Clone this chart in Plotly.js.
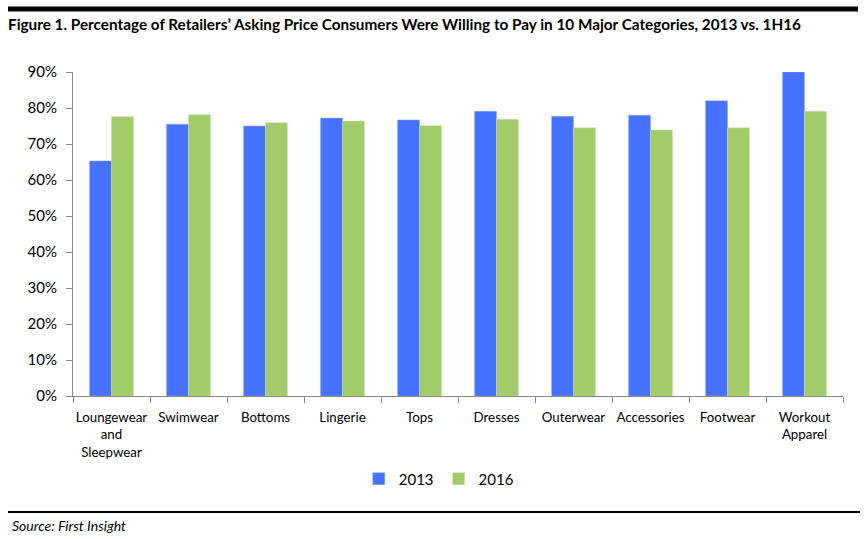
<!DOCTYPE html>
<html>
<head>
<meta charset="utf-8">
<script src="https://cdn.plot.ly/plotly-3.0.1.min.js"></script>
<style>html,body{margin:0;padding:0;background:#fff;}#chart{width:864px;height:539px;}</style>
</head>
<body>
<div id="chart"></div>
<script>
const categories = ["Loungewear<br>and<br>Sleepwear", "Swimwear", "Bottoms", "Lingerie", "Tops", "Dresses", "Outerwear", "Accessories", "Footwear", "Workout<br>Apparel"];
const values2013 = [65.3, 75.5, 75.0, 77.2, 76.7, 79.1, 77.7, 78.0, 82.0, 90.0];
const values2016 = [77.6, 78.1, 75.9, 76.4, 75.1, 76.9, 74.5, 73.9, 74.5, 79.1];
const seriesNames = ["2013", "2016"];
const yTickVals = [0, 10, 20, 30, 40, 50, 60, 70, 80, 90];
const yTickText = yTickVals.map(v => v + "%");

const FONT = "Lato, 'Open Sans', sans-serif";

const traces = [
  {type: "bar", name: seriesNames[0], x: categories, y: values2013,
   marker: {color: "#4672FF", line: {color: "#8fa8ff", width: 0.5}}},
  {type: "bar", name: seriesNames[1], x: categories, y: values2016,
   marker: {color: "#A2CB6A", line: {color: "#c8e0a8", width: 0.5}}}
];

const layout = {
  width: 864, height: 539,
  margin: {l: 73, r: 21, t: 72, b: 143},
  paper_bgcolor: "#fff", plot_bgcolor: "#fff",
  font: {family: FONT, color: "#000", size: 13},
  title: {text: "<b>Figure 1. Percentage of Retailers\u2019 Asking Price Consumers Were Willing to Pay in 10 Major Categories, 2013 vs. 1H16</b>",
          xref: "container", yref: "container", x: 8/864, xanchor: "left", y: 1 - 25/539, yanchor: "middle",
          font: {family: FONT, size: 15.3, color: "#000"}},
  barmode: "group", bargap: 0.43, bargroupgap: 0,
  showlegend: true,
  legend: {orientation: "h", x: 0.475, xanchor: "center", y: -0.256, yanchor: "middle",
           font: {family: FONT, size: 15}, itemwidth: 30, traceorder: "normal"},
  xaxis: {type: "category", showline: true, linecolor: "#888", linewidth: 1,
          ticks: "outside", ticklen: 6, tickcolor: "#888", tickson: "boundaries", tickangle: 0,
          ticklabelstandoff: 9,
          showgrid: false, tickfont: {family: FONT, size: 13.3}, fixedrange: true},
  yaxis: {range: [0, 90], tickvals: yTickVals, ticktext: yTickText,
          showline: true, linecolor: "#888", linewidth: 1, ticks: "outside", ticklen: 6, tickcolor: "#888",
          showgrid: false, zeroline: false, tickfont: {family: FONT, size: 15}, ticklabelstandoff: 6},
  shapes: [
    {type: "line", xref: "paper", yref: "paper", x0: -65/770, x1: 1 + 15/770, y0: 1 + 63/324, y1: 1 + 63/324,
     line: {color: "#000", width: 5}},
    {type: "line", xref: "paper", yref: "paper", x0: -65/770, x1: 1 + 17/770, y0: -116/324, y1: -116/324,
     line: {color: "#000", width: 2}}
  ],
  annotations: [
    {text: "<i>Source: First Insight</i>", xref: "paper", yref: "paper", x: -63/770, xanchor: "left",
     y: -129/324, yanchor: "middle", showarrow: false, font: {family: FONT, size: 14, color: "#000"}}
  ]
};

Plotly.newPlot("chart", traces, layout, {displayModeBar: false, staticPlot: true});
</script>
</body>
</html>
